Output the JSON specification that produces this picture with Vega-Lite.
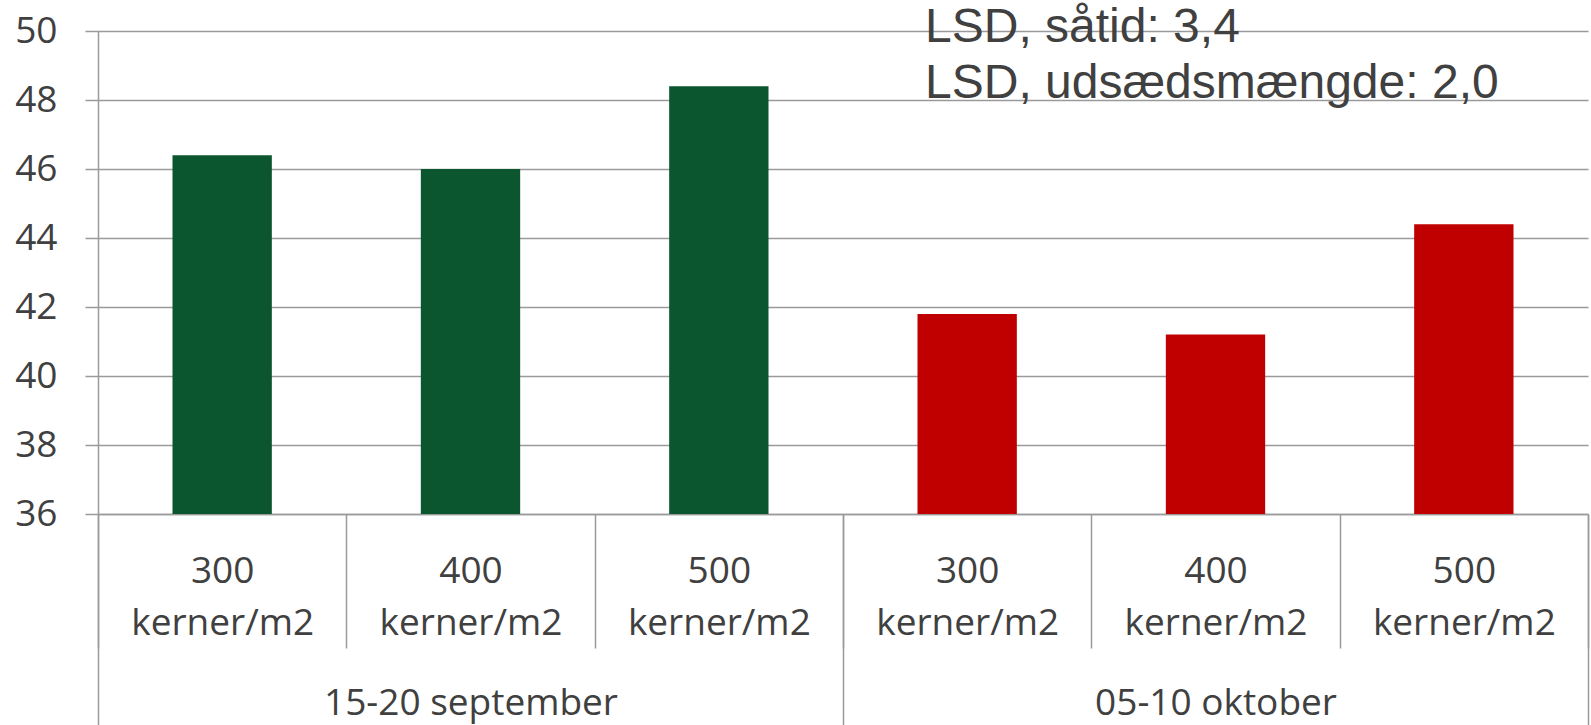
{
  "$schema": "https://vega.github.io/schema/vega-lite/v6.json",
  "width": 1490,
  "height": 483,
  "autosize": {"type": "none"},
  "padding": {"left": 98, "top": 31, "right": 3, "bottom": 211},
  "background": "white",
  "config": {
    "view": {"stroke": null},
    "axis": {
      "labelFont": "Open Sans",
      "labelColor": "#404040",
      "domainColor": "#9a9a9a",
      "tickColor": "#9a9a9a",
      "gridColor": "#9a9a9a",
      "domainWidth": 1.5,
      "tickWidth": 1.5,
      "gridWidth": 1.5,
      "title": null
    }
  },
  "data": {
    "values": [
      {"key": "15-20 september|300 kerner/m2", "group": "15-20 september", "value": 46.4},
      {"key": "15-20 september|400 kerner/m2", "group": "15-20 september", "value": 46.0},
      {"key": "15-20 september|500 kerner/m2", "group": "15-20 september", "value": 48.4},
      {"key": "05-10 oktober|300 kerner/m2", "group": "05-10 oktober", "value": 41.8},
      {"key": "05-10 oktober|400 kerner/m2", "group": "05-10 oktober", "value": 41.2},
      {"key": "05-10 oktober|500 kerner/m2", "group": "05-10 oktober", "value": 44.4}
    ]
  },
  "layer": [
    {
      "mark": {"type": "bar", "width": {"band": 0.4}},
      "encoding": {
        "x": {
          "field": "key",
          "type": "nominal",
          "sort": null,
          "scale": {"paddingInner": 0, "paddingOuter": 0},
          "axis": {
            "orient": "bottom",
            "labelExpr": "datum.label ? split(split(datum.label,'|')[1],' ') : ''",
            "labelFontSize": 37,
            "labelLineHeight": 52,
            "labelAngle": 0,
            "labelBaseline": "top",
            "labelPadding": -95,
            "labelLimit": 0,
            "tickBand": "extent",
            "tickSize": 134,
            "grid": false,
            "domain": true
          }
        },
        "y": {
          "field": "value",
          "type": "quantitative",
          "scale": {"domain": [36, 50], "nice": false, "zero": false},
          "axis": {
            "values": [36, 38, 40, 42, 44, 46, 48, 50],
            "labelFontSize": 37,
            "tickSize": 13,
            "labelPadding": 28,
            "grid": true,
            "domain": true
          }
        },
        "y2": {"datum": 36},
        "color": {
          "field": "group",
          "type": "nominal",
          "scale": {"domain": ["15-20 september", "05-10 oktober"], "range": ["#0B562E", "#C00000"]},
          "legend": null
        }
      }
    },
    {
      "data": {"values": [{"group": "05-10 oktober", "note": "LSD, såtid: 3,4|LSD, udsædsmængde: 2,0"}]},
      "mark": {
        "type": "text",
        "font": "Liberation Sans",
        "fontSize": 48,
        "lineBreak": "|",
        "lineHeight": 56,
        "align": "left",
        "baseline": "alphabetic",
        "dx": 82,
        "color": "#404040"
      },
      "encoding": {
        "x": {
          "field": "group",
          "type": "nominal",
          "bandPosition": 0,
          "scale": {"domain": ["15-20 september", "05-10 oktober"], "paddingInner": 0, "paddingOuter": 0},
          "axis": {
            "orient": "bottom",
            "labelExpr": "datum.label ? datum.label : ''",
            "labelFontSize": 37,
            "labelBaseline": "top",
            "labelAngle": 0,
            "labelLimit": 0,
            "tickBand": "extent",
            "tickSize": 211,
            "labelPadding": -40,
            "domain": false,
            "grid": false
          }
        },
        "y": {"datum": 49.68, "type": "quantitative"},
        "text": {"field": "note"}
      }
    }
  ],
  "resolve": {"scale": {"x": "independent"}, "axis": {"x": "independent"}}
}
